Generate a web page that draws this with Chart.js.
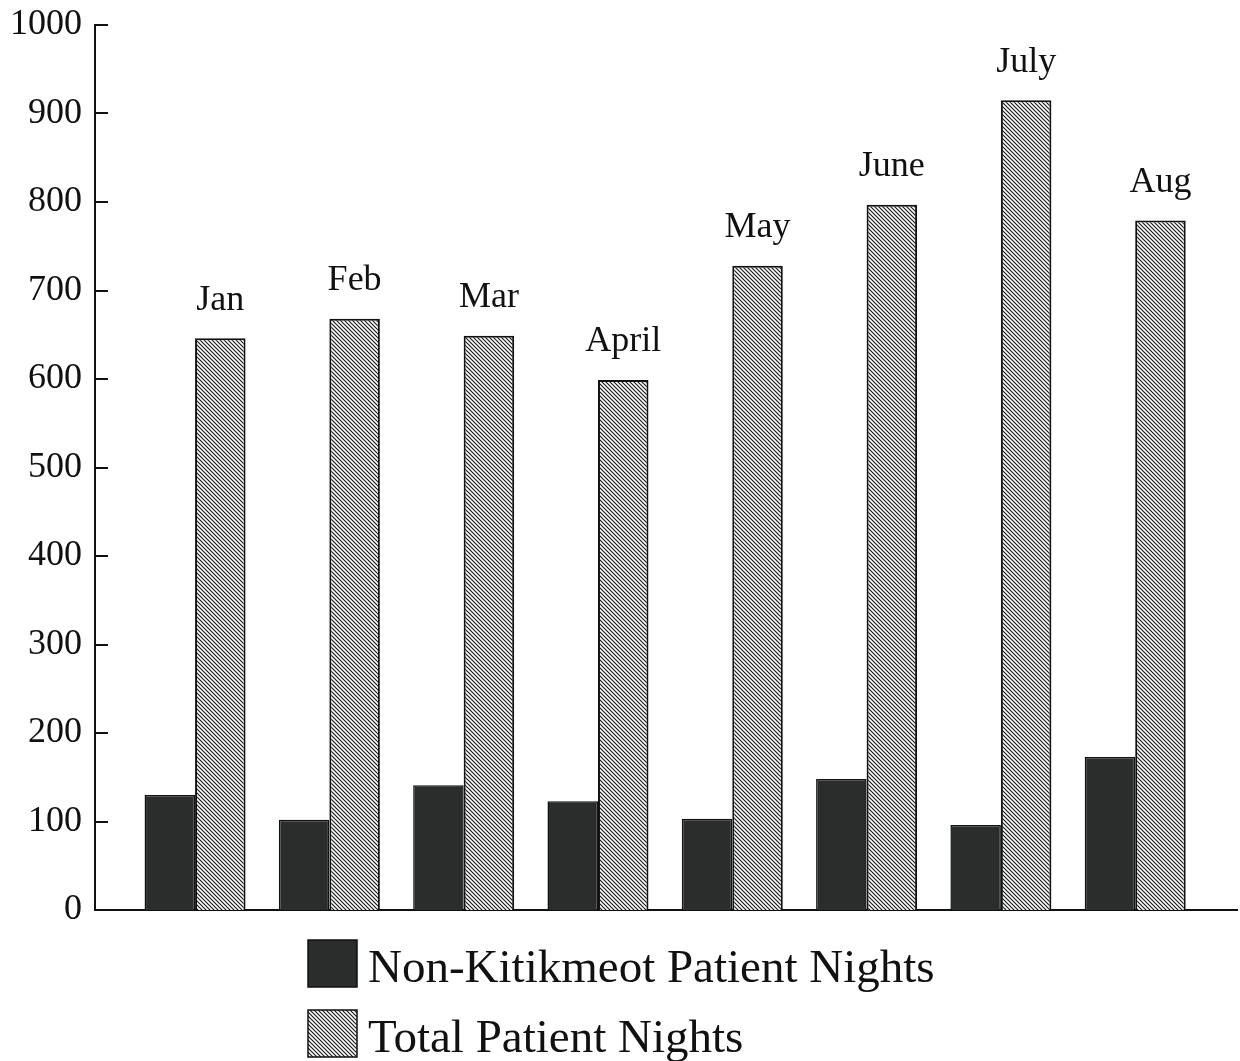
<!DOCTYPE html>
<html>
<head>
<meta charset="utf-8">
<script src="https://cdn.jsdelivr.net/npm/chart.js@4.4.1/dist/chart.umd.min.js"></script>
<style>
  html, body { margin: 0; padding: 0; background: #fff; }
  #wrap { width: 1240px; height: 1061px; }
</style>
</head>
<body>
<div id="wrap"><canvas id="nightsChart" width="1240" height="1061"></canvas></div>
<script>
const months = ['Jan', 'Feb', 'Mar', 'April', 'May', 'June', 'July', 'Aug'];
const nonKitikmeot = [130, 102, 141, 123, 103, 148, 96, 173];
const totalNights = [646, 668, 649, 599, 728, 797, 915, 779];
const yTicks = [0, 100, 200, 300, 400, 500, 600, 700, 800, 900, 1000];
const seriesNames = ['Non-Kitikmeot Patient Nights', 'Total Patient Nights'];

const serif = "'Liberation Serif', 'DejaVu Serif', serif";

function hatch() {
  const c = document.createElement('canvas');
  c.width = 4; c.height = 4;
  const g = c.getContext('2d');
  g.fillStyle = '#fff';
  g.fillRect(0, 0, 4, 4);
  g.strokeStyle = '#1b1b1b';
  g.lineWidth = 1.2;
  g.beginPath();
  g.moveTo(-1, -1); g.lineTo(5, 5);
  g.moveTo(-1, 3); g.lineTo(1, 5);
  g.moveTo(3, -1); g.lineTo(5, 1);
  g.stroke();
  return g.createPattern(c, 'repeat');
}
const hatchFill = hatch();
const darkFill = '#2b2d2c';

// month names above the total bars, inward y ticks, stacked legend
const extras = {
  id: 'extras',
  afterDraw(chart) {
    const ctx = chart.ctx;
    const y = chart.scales.y;
    const area = chart.chartArea;
    ctx.save();
    ctx.strokeStyle = '#111';
    ctx.lineWidth = 2;
    yTicks.forEach(v => {
      if (v === 0) return;
      const py = Math.round(y.getPixelForValue(v));
      ctx.beginPath();
      ctx.moveTo(area.left, py);
      ctx.lineTo(area.left + 13, py);
      ctx.stroke();
    });

    const meta = chart.getDatasetMeta(1);
    ctx.fillStyle = '#111';
    ctx.font = '36px ' + serif;
    ctx.textAlign = 'center';
    ctx.textBaseline = 'middle';
    meta.data.forEach((bar, i) => {
      ctx.fillText(months[i], bar.x, bar.y - 38);
    });

    const rows = [
      { fill: darkFill, top: 940 },
      { fill: hatchFill, top: 1010 }
    ];
    ctx.textAlign = 'left';
    ctx.font = '47px ' + serif;
    rows.forEach((r, i) => {
      ctx.fillStyle = r.fill;
      ctx.fillRect(308, r.top, 49, 47);
      ctx.strokeStyle = '#111';
      ctx.lineWidth = 1.5;
      ctx.strokeRect(308, r.top, 49, 47);
      ctx.fillStyle = '#111';
      ctx.fillText(seriesNames[i], 368, r.top + 30);
    });
    ctx.restore();
  }
};

const canvas = document.getElementById('nightsChart');
new Chart(canvas, {
  type: 'bar',
  data: {
    datasets: [
      {
        label: seriesNames[0],
        data: nonKitikmeot.map((v, i) => ({ x: i, y: v })),
        backgroundColor: darkFill,
        borderColor: '#111',
        borderWidth: 1.5
      },
      {
        label: seriesNames[1],
        data: totalNights.map((v, i) => ({ x: i, y: v })),
        backgroundColor: hatchFill,
        borderColor: '#111',
        borderWidth: 2
      }
    ]
  },
  options: {
    responsive: false,
    animation: false,
    categoryPercentage: 0.752,
    barPercentage: 1.0,
    layout: { padding: { top: 0, right: 3, left: 0, bottom: 0 } },
    plugins: {
      legend: { display: false },
      tooltip: { enabled: false }
    },
    scales: {
      x: {
        type: 'linear',
        offset: false,
        min: -0.745,
        max: 7.758,
        ticks: { display: false, stepSize: 1, includeBounds: false },
        grid: { display: false, drawTicks: false, offset: false },
        border: { display: true, color: '#111', width: 2 },
        afterFit(scale) { scale.height = 151; }
      },
      y: {
        min: 0,
        max: 1000,
        ticks: {
          stepSize: 100,
          padding: 13,
          color: '#111',
          font: { family: serif, size: 36, lineHeight: 1 },
          callback: v => String(v)
        },
        grid: { display: false, drawTicks: false },
        border: { display: true, color: '#111', width: 2 },
        afterFit(scale) {
          scale.width = 95;
          scale.paddingTop = 25;
        }
      }
    }
  },
  plugins: [extras]
});
</script>
</body>
</html>
